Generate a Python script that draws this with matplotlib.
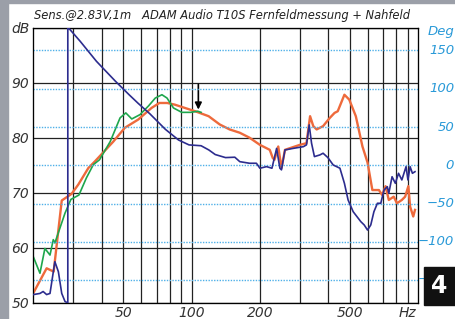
import matplotlib
matplotlib.use("Agg")
import matplotlib.pyplot as plt
from matplotlib.patches import Rectangle
import numpy as np

# Fernfeld + Nahfeld combined (orange), dB
freq_fern = [20, 22.9, 24.6, 26.7, 29.5, 31.6, 35.0, 37.4, 45.1, 50.7, 58.1, 66.5, 72, 78,
             84.2, 95, 103.6, 118.8, 133, 147, 163, 180, 200, 221, 228, 232, 241, 249, 258,
             300, 321, 333, 344, 356, 380, 407, 427, 441, 472, 496, 530, 567, 597, 627, 670,
             693, 717, 741, 779, 805, 846, 875, 904, 920, 950, 967]
spl_fern = [51.8, 56.3, 55.7, 68.6, 69.8, 71.5, 74.5, 75.7, 79.3, 81.8, 83.3, 85.4, 86.3, 86.3,
            86.0, 85.3, 84.8, 83.9, 82.4, 81.5, 80.9, 80.0, 78.7, 77.8, 76.3, 76.0, 78.4, 74.5, 77.8,
            78.7, 79.0, 83.9, 82.1, 81.5, 82.1, 83.6, 84.5, 84.8, 87.8, 86.9, 83.9, 78.4, 75.5, 70.5, 70.5,
            69.6, 71.2, 68.7, 69.3, 68.1, 68.7, 69.3, 71.2, 67.5, 65.7, 66.9]

# Nahfeld (green), dB
freq_nah = [20, 21.4, 22.5, 23.7, 24.5, 24.9, 27.6, 29.3, 31.8, 34.3, 36.8, 39.2, 43.7, 48.3,
            51.2, 54.4, 59.2, 64.6, 69.1, 73.9, 77.8, 83.1, 90.4, 98.9, 106.4, 110]
spl_nah = [58.4, 55.4, 59.9, 58.7, 61.5, 60.9, 66.3, 68.8, 69.6, 72.7, 75.1, 76.0, 79.3, 83.6,
           84.5, 83.4, 84.2, 85.8, 87.2, 87.8, 87.2, 85.4, 84.6, 84.6, 84.8, 84.6]

# phase (blue), degrees
freq_phase = [20, 21.4, 22.1, 22.9, 23.7, 24.9, 25.8, 26.7, 27.6, 28.4, 28.4, 28.7, 32.2, 38, 46,
              53, 58, 65.5, 76.5, 87.5, 97.3, 110, 119, 127, 141, 155, 163, 180, 193, 200, 214,
              226, 237, 245, 249, 258, 280, 311, 321, 330, 338, 348, 368, 380, 399, 421, 451,
              472, 490, 516, 558, 577, 597, 617, 637, 660, 683, 706, 730, 741, 766, 792, 818,
              846, 883, 900, 920, 942, 967]
phase = [-169, -167.5, -165, -169, -167.5, -126, -139, -167.5, -178, -180, 180, 179, 162, 135.8, 110,
         92, 81, 67, 47, 33, 26.6, 25.5, 20, 14, 10, 10.5, 4.7, 2.6, 2.6, -3.9, -1.8,
         -3.9, 22, -3.9, -6, 20, 22, 24.3, 26.6, 52.7, 28.8, 11.3, 13.5, 15.7, 10, 0.4, -3.9,
         -23.6, -45.4, -60.7, -73.8, -78, -84.7, -78, -60.7, -49.7, -49.7, -32.3, -28, -36.6, -15, -23.6, -10.5,
         -19.2, -1.8, -19.2, -1.8, -10.5, -8.4]

db_ticks = [50, 60, 70, 80, 90, 100]
db_labels = ["50", "60", "70", "80", "90", "dB"]
hz_ticks = [50, 100, 200, 500, 900]
hz_labels = ["50", "100", "200", "500", "Hz"]
hz_minor = [30, 40, 60, 70, 80, 90, 300, 400, 600, 700, 800]
deg_ticks = [150, 100, 50, 0, -50, -100, -150]

W, H = 455, 319
fig = plt.figure(figsize=(W / 100, H / 100), dpi=100)
fig.patch.set_facecolor("white")
fig.patches.append(Rectangle((0, 0), 8 / W, 1, transform=fig.transFigure, color="#9b9fa8", zorder=0))
fig.patches.append(Rectangle((0, 1 - 3 / H), 1, 3 / H, transform=fig.transFigure, color="#9b9fa8", zorder=0))

ax = fig.add_axes([33.3 / W, 16 / H, 385 / W, 275.5 / H])
ax.set_xscale("log")
ax.set_xlim(20, 1000)
ax.set_ylim(50, 100)

ax.set_xticks(hz_ticks)
ax.set_xticklabels(hz_labels)
ax.set_xticks(hz_minor, minor=True)
ax.set_yticks(db_ticks)
ax.set_yticklabels(db_labels)
ax.tick_params(which="both", length=0)
ax.tick_params(axis="x", pad=2, labelsize=10, labelcolor="#333333")
ax.tick_params(axis="y", pad=3, labelsize=10, labelcolor="#333333")
for lab in ax.get_xticklabels() + ax.get_yticklabels():
    lab.set_fontstyle("italic")
ax.grid(True, which="both", axis="x", color="#222222", lw=0.9)
ax.grid(True, axis="y", color="#222222", lw=0.9)
for s in ax.spines.values():
    s.set_color("#222222")
    s.set_linewidth(0.9)

ax2 = ax.twinx()
ax2.set_ylim(-180, 180)
ax2.set_yticks([])
for d in deg_ticks:
    ax2.axhline(d, color="#4fb0e8", lw=1.0, ls=(0, (1, 1)), zorder=1)

ax.plot(freq_fern, spl_fern, color="#ee6a3c", lw=1.7, zorder=3)
ax.plot(freq_nah, spl_nah, color="#1ea64c", lw=1.2, zorder=4)
ax2.plot(freq_phase, phase, color="#2c2c8e", lw=1.2, zorder=5)

ax.annotate("", xy=(107, 84.6), xytext=(107, 90.2),
            arrowprops=dict(arrowstyle="-|>", color="black", lw=1.2, mutation_scale=10), zorder=6)

# right phase labels
for d in deg_ticks:
    y = 165.3 - d * 0.764
    fig.text(454 / W, 1 - y / H, str(d).replace("-", "\u2212"), ha="right", va="center",
             color="#2a9ad8", fontsize=9.5, fontstyle="italic")
fig.text(454 / W, 1 - 32 / H, "Deg", ha="right", va="center", color="#2a9ad8",
         fontsize=9.5, fontstyle="italic")

fig.text(34 / W, 1 - 15 / H, "Sens.@2.83V,1m   ADAM Audio T10S Fernfeldmessung + Nahfeld",
         ha="left", va="center", fontsize=8.3, fontstyle="italic", color="#222222")

fig.patches.append(Rectangle((424 / W, 1 - 305 / H), 31 / W, 38 / H, transform=fig.transFigure,
                             color="#111111", zorder=10))
fig.text(439.5 / W, 1 - 286 / H, "4", ha="center", va="center", color="white",
         fontsize=17, fontweight="bold", zorder=11)

fig.savefig("out.png", dpi=100)
